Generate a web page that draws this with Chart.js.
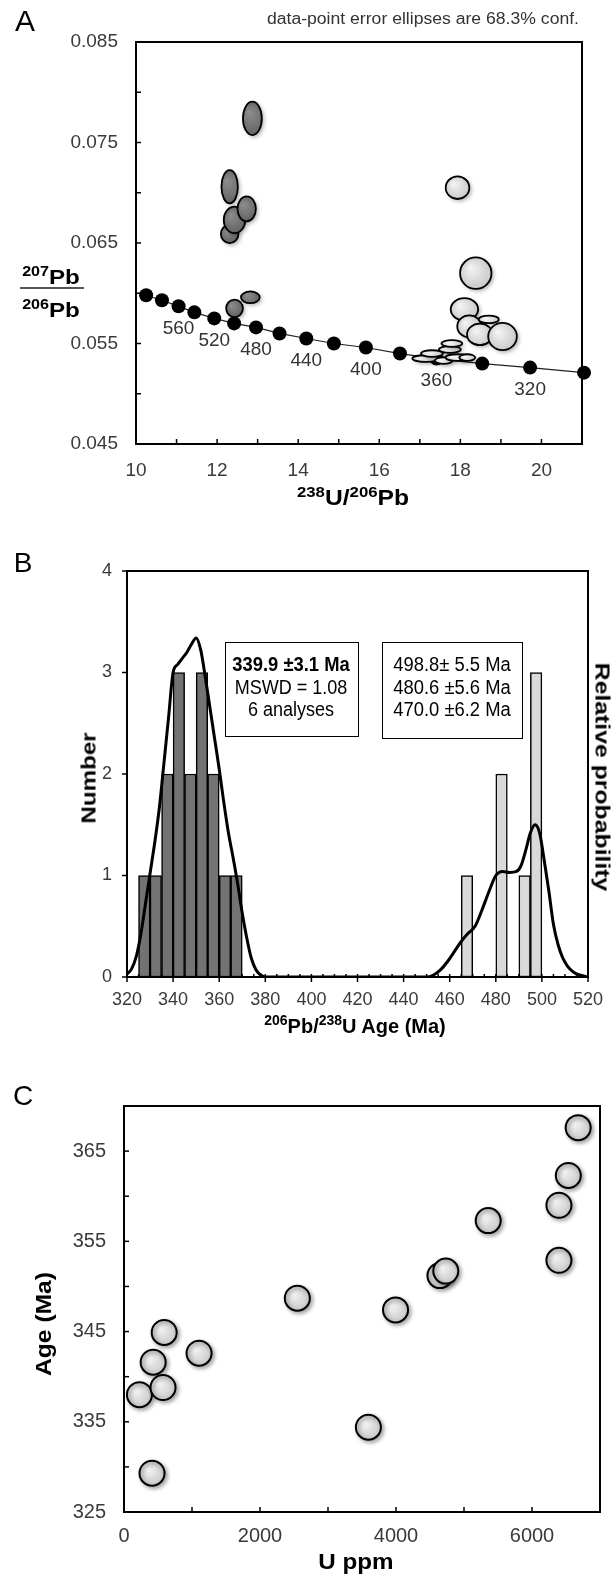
<!DOCTYPE html>
<html><head><meta charset="utf-8">
<script src="https://cdn.jsdelivr.net/npm/chart.js@4"></script>
<style>
html,body{margin:0;padding:0;background:#fff;}
#wrap{position:relative;width:616px;height:1575px;overflow:hidden;font-family:'Liberation Sans',Arial,sans-serif;}
canvas{position:absolute;left:0;}
.t{position:absolute;white-space:nowrap;line-height:1;color:#000;}
.box{position:absolute;border:1px solid #000;}
.sp{position:relative;}
</style></head>
<body><div id="wrap">
<canvas id="cA" width="616" height="520" style="top:0px"></canvas>
<canvas id="cB" width="616" height="520" style="top:530px"></canvas>
<canvas id="cC" width="616" height="515" style="top:1060px"></canvas>
</div>
<script>
// ---------- Panel A data ----------
const concordiaAge = [600,580,560,540,520,500,480,460,440,420,400,380,360,340,320,300];
const concordiaX = [10.25,10.64,11.05,11.44,11.93,12.42,12.96,13.54,14.20,14.88,15.67,16.51,17.41,18.54,19.72,21.05];
const concordiaY = [0.0598,0.0593,0.0587,0.0581,0.0575,0.0570,0.0566,0.0560,0.0555,0.0550,0.0546,0.0540,0.0535,0.0530,0.0526,0.0521];
const concordiaLabelAges = [560,520,480,440,400,360,320];
const darkX = [12.31,12.43,12.31,12.73,12.87,12.43,12.82];
const darkY = [0.0659,0.0673,0.0706,0.0684,0.0774,0.0585,0.0596];
const darkErrX = [0.217,0.266,0.202,0.227,0.232,0.207,0.232];
const darkErrY = [0.00092,0.00132,0.00166,0.00124,0.00166,0.00087,0.00058];
const lightX = [17.15,17.30,17.59,17.74,17.79,17.93,18.17,17.93,18.38,18.10,18.22,18.70,18.48,19.04];
const lightY = [0.0535,0.0540,0.0533,0.0544,0.0550,0.0536,0.0536,0.0705,0.0620,0.0584,0.0567,0.0574,0.0559,0.0557];
const lightErrX = [0.333,0.271,0.222,0.271,0.256,0.296,0.197,0.291,0.387,0.338,0.296,0.247,0.316,0.353];
const lightErrY = [0.00033,0.00033,0.00033,0.00033,0.00033,0.00033,0.00033,0.00112,0.00157,0.00111,0.00109,0.00038,0.00107,0.00136];

// ---------- Panel B data ----------
const darkBinAge = [327.5,332.5,337.5,342.5,347.5,352.5,357.5,362.5,367.5];
const darkBinCount = [1,1,2,3,2,3,2,1,1];
const lightBinAge = [467.5,482.5,492.5,497.5];
const lightBinCount = [1,2,1,3];
const probAge = [320,322,324,326,328,330,332,334,336,338,340,342,344,346,348,350,352,354,356,358,360,362,364,366,368,370,372,374,376,378,380,
  450,453,456,459,462,465,468,471,474,477,480,483,486,489,491,493,495,497,499,501,503,505,507,509,511,513,515,518,520];
const probValue = [0.03,0.08,0.2,0.42,0.72,1.02,1.32,1.66,2.1,2.55,3.0,3.08,3.14,3.2,3.28,3.34,3.22,2.95,2.65,2.35,2.05,1.72,1.42,1.18,0.92,0.63,0.38,0.18,0.07,0.02,0,
  0,0.02,0.07,0.15,0.25,0.35,0.43,0.5,0.66,0.84,1.0,1.04,1.03,1.04,1.1,1.25,1.42,1.5,1.42,1.15,0.85,0.52,0.32,0.19,0.11,0.06,0.03,0.01,0];

// ---------- Panel C data ----------
const uPpm = [227,429,412,574,591,1104,2549,3594,3993,4646,4732,5356,6396,6396,6534,6679];
const ageMa = [338.0,341.6,329.3,338.8,344.9,342.6,348.7,334.4,347.4,351.2,351.7,357.3,352.9,359.0,362.3,367.6];

// ---------- common ----------
Chart.defaults.font.family = "'Liberation Sans', Arial, sans-serif";
Chart.defaults.color = '#3a3a3a';
Chart.defaults.animation = false;
Chart.defaults.events = [];
Chart.defaults.plugins.legend.display = false;
Chart.defaults.plugins.tooltip.enabled = false;

const frameTicks = {
  id: 'frameTicks',
  beforeDatasetsDraw(chart, args, o) {
    const ctx = chart.ctx, a = chart.chartArea;
    ctx.save();
    ctx.strokeStyle = '#000';
    ctx.lineWidth = 1.5;
    const xs = chart.scales.x, ys = chart.scales.y;
    const drawX = (v, len, inward) => {
      const p = xs.getPixelForValue(v);
      ctx.beginPath(); ctx.moveTo(p, a.bottom); ctx.lineTo(p, inward ? a.bottom - len : a.bottom + len); ctx.stroke();
    };
    const drawY = (v, len, inward) => {
      const p = ys.getPixelForValue(v);
      ctx.beginPath(); ctx.moveTo(a.left, p); ctx.lineTo(inward ? a.left + len : a.left - len, p); ctx.stroke();
    };
    xs.ticks.forEach(t => drawX(t.value, o.xLen, o.xIn));
    ys.ticks.forEach(t => drawY(t.value, o.yLen, o.yIn));
    if (o.xMinor) {
      for (let v = xs.min; v <= xs.max; v += o.xMinor) drawX(v, 3, true);
    }
    ctx.lineWidth = 2;
    ctx.strokeRect(a.left, a.top, a.right - a.left, a.bottom - a.top);
    ctx.restore();
  }
};

const shadowPlugin = {
  id: 'shadow',
  beforeDatasetDraw(chart, args, o) {
    if (!o.list || o.list.indexOf(args.index) < 0) return;
    const ctx = chart.ctx;
    ctx.save();
    ctx.shadowColor = 'rgba(0,0,0,0.35)'; ctx.shadowBlur = 4; ctx.shadowOffsetX = 2; ctx.shadowOffsetY = 2;
  },
  afterDatasetDraw(chart, args, o) {
    if (!o.list || o.list.indexOf(args.index) < 0) return;
    chart.ctx.restore();
  }
};

function fitY(w) { return s => { s.width = w; }; }
function fitX(h) { return s => { s.height = h; }; }

// ---------- Chart A ----------
const ellipsePlugin = {
  id: 'ellipses',
  afterDatasetDraw(chart, args) {
    const ds = chart.data.datasets[args.index];
    if (!ds.errX) return;
    const ctx = chart.ctx, xs = chart.scales.x, ys = chart.scales.y;
    ctx.save();
    args.meta.data.forEach((el, i) => {
      const d = ds.data[i];
      const rx = Math.abs(xs.getPixelForValue(d.x + ds.errX[i]) - el.x);
      const ry = Math.abs(ys.getPixelForValue(d.y + ds.errY[i]) - el.y);
      const g = ctx.createRadialGradient(el.x - rx * 0.35, el.y - ry * 0.35, 0.5, el.x, el.y, Math.max(rx, ry) * 1.1);
      g.addColorStop(0, ds.fill0); g.addColorStop(1, ds.fill1);
      ctx.beginPath(); ctx.ellipse(el.x, el.y, rx, ry, 0, 0, Math.PI * 2);
      ctx.shadowColor = 'rgba(0,0,0,0.35)'; ctx.shadowBlur = 4; ctx.shadowOffsetX = 2; ctx.shadowOffsetY = 2;
      ctx.fillStyle = g; ctx.fill();
      ctx.shadowColor = 'rgba(0,0,0,0)';
      ctx.lineWidth = 1.8; ctx.strokeStyle = '#000'; ctx.stroke();
    });
    ctx.restore();
  },
  afterDatasetsDraw(chart) {
    const ctx = chart.ctx;
    const meta = chart.getDatasetMeta(0);
    ctx.save();
    ctx.font = "19px 'Liberation Sans', Arial, sans-serif";
    ctx.fillStyle = '#333'; ctx.textAlign = 'center'; ctx.textBaseline = 'middle';
    concordiaLabelAges.forEach(age => {
      const i = concordiaAge.indexOf(age);
      const el = meta.data[i];
      ctx.fillText(String(age), el.x, el.y + 22);
    });
    ctx.restore();
  }
};

new Chart(document.getElementById('cA'), {
  type: 'scatter',
  data: { datasets: [
    { type: 'line', data: concordiaX.map((x, i) => ({x, y: concordiaY[i]})), borderColor: '#222', borderWidth: 1.2,
      pointRadius: 7, pointBackgroundColor: '#000', pointBorderWidth: 0, tension: 0, clip: false, order: 2 },
    { data: darkX.map((x, i) => ({x, y: darkY[i]})), errX: darkErrX, errY: darkErrY, fill0: '#8c8c8c', fill1: '#5f5f5f',
      pointRadius: 0, order: 1 },
    { data: lightX.map((x, i) => ({x, y: lightY[i]})), errX: lightErrX, errY: lightErrY, fill0: '#f4f4f4', fill1: '#c6c6c6',
      pointRadius: 0, order: 0 }
  ]},
  options: {
    responsive: false,
    layout: { padding: { top: 42, right: 34, bottom: 0, left: 0 } },
    scales: {
      x: { type: 'linear', min: 10, max: 21, afterFit: fitX(76),
        grid: { display: false, drawTicks: false }, border: { display: false },
        ticks: { stepSize: 1, autoSkip: false, maxRotation: 0, padding: 15, font: { size: 19 },
          callback: v => (v % 2 === 0 ? String(v) : '') } },
      y: { min: 0.045, max: 0.085, afterFit: fitY(136),
        grid: { display: false, drawTicks: false }, border: { display: false },
        ticks: { stepSize: 0.005, autoSkip: false, padding: 18, font: { size: 19 },
          callback: v => { const k = Math.round(v * 1000); return (k % 10 === 5) ? (k / 1000).toFixed(3) : ''; } } }
    },
    plugins: { frameTicks: { xLen: 5, xIn: true, yLen: 5, yIn: true } }
  },
  plugins: [frameTicks, ellipsePlugin]
});

// ---------- Chart B ----------
new Chart(document.getElementById('cB'), {
  type: 'scatter',
  data: { datasets: [
    { type: 'line', data: probAge.map((x, i) => ({x, y: probValue[i]})), borderColor: '#000', borderWidth: 3,
      pointRadius: 0, cubicInterpolationMode: 'monotone', order: 0 },
    { type: 'bar', data: darkBinAge.map((x, i) => ({x, y: darkBinCount[i]})), backgroundColor: '#737373',
      borderColor: '#000', borderWidth: 1.5, borderSkipped: false, grouped: false, barPercentage: 1, categoryPercentage: 1, order: 1 },
    { type: 'bar', data: lightBinAge.map((x, i) => ({x, y: lightBinCount[i]})), backgroundColor: '#d9d9d9',
      borderColor: '#000', borderWidth: 1.5, borderSkipped: false, grouped: false, barPercentage: 1, categoryPercentage: 1, order: 1 }
  ]},
  options: {
    responsive: false,
    layout: { padding: { top: 41, right: 28, bottom: 0, left: 0 } },
    scales: {
      x: { type: 'linear', min: 320, max: 520, offset: false, afterFit: fitX(73),
        grid: { display: false, drawTicks: false, offset: false }, border: { display: false },
        ticks: { stepSize: 20, autoSkip: false, maxRotation: 0, padding: 12, font: { size: 18 } } },
      y: { min: 0, max: 4, afterFit: fitY(127),
        grid: { display: false, drawTicks: false }, border: { display: false },
        ticks: { stepSize: 1, padding: 15, font: { size: 18 } } }
    },
    plugins: { frameTicks: { xLen: 5, xIn: false, yLen: 5, yIn: false, xMinor: 5 } }
  },
  plugins: [frameTicks]
});

// ---------- Chart C ----------
new Chart(document.getElementById('cC'), {
  type: 'scatter',
  data: { datasets: [
    { data: uPpm.map((x, i) => ({x, y: ageMa[i]})), pointRadius: 12.5, borderColor: '#000', borderWidth: 2,
      backgroundColor: (c) => {
        const flat = '#d6d6d6';
        if (c.type !== 'data' || !c.parsed) return flat;
        const ch = c.chart, xs = ch.scales && ch.scales.x, ys = ch.scales && ch.scales.y;
        if (!xs || !ys) return flat;
        const px = xs.getPixelForValue(c.parsed.x), py = ys.getPixelForValue(c.parsed.y);
        if (!isFinite(px) || !isFinite(py)) return flat;
        const g = ch.ctx.createRadialGradient(px - 4, py - 4, 1, px, py, 13);
        g.addColorStop(0, '#f2f2f2'); g.addColorStop(1, '#c8c8c8');
        return g;
      } }
  ]},
  options: {
    responsive: false,
    layout: { padding: { top: 46, right: 16, bottom: 0, left: 0 } },
    scales: {
      x: { type: 'linear', min: 0, max: 7000, afterFit: fitX(63),
        grid: { display: false, drawTicks: false }, border: { display: false },
        ticks: { stepSize: 1000, autoSkip: false, maxRotation: 0, padding: 12, font: { size: 20 },
          callback: v => (v % 2000 === 0 ? String(v) : '') } },
      y: { min: 325, max: 370, afterFit: fitY(124),
        grid: { display: false, drawTicks: false }, border: { display: false },
        ticks: { stepSize: 5, autoSkip: false, padding: 18, font: { size: 20 },
          callback: v => (v % 10 === 5 ? String(v) : '') } }
    },
    plugins: { frameTicks: { xLen: 5, xIn: true, yLen: 5, yIn: true }, shadow: { list: [0] } }
  },
  plugins: [frameTicks, shadowPlugin]
});

// ---------- HTML text ----------
const wrap = document.getElementById('wrap');
function txt(html, cx, cy, size, o = {}) {
  const d = document.createElement('div');
  d.className = 't'; d.innerHTML = html;
  d.style.fontSize = size + 'px';
  if (o.bold) d.style.fontWeight = 'bold';
  if (o.color) d.style.color = o.color;
  if (o.family) d.style.fontFamily = o.family;
  d.style.left = cx + 'px'; d.style.top = cy + 'px';
  const ax = o.align === 'right' ? '-100%' : (o.align === 'left' ? '0' : '-50%');
  if (o.align === 'right') d.style.transformOrigin = '100% 50%';
  d.style.transform = 'translate(' + ax + ',-50%)' + (o.rot ? ' rotate(' + o.rot + 'deg)' : '') + (o.sx ? ' scaleX(' + o.sx + ')' : '');
  wrap.appendChild(d);
}
function sup(s, size, shift) { return '<span class="sp" style="font-size:' + size + 'px;top:-' + shift + 'px">' + s + '</span>'; }
function box(l, t, w, h) {
  const d = document.createElement('div'); d.className = 'box';
  d.style.left = l + 'px'; d.style.top = t + 'px'; d.style.width = w + 'px'; d.style.height = h + 'px';
  wrap.appendChild(d);
}

// Panel A
txt('A', 25, 21, 30);
txt('data-point error ellipses are 68.3% conf.', 579, 19, 16, { align: 'right', color: '#333', sx: 1.1 });
txt(sup('207', 14, 8) + 'Pb', 51, 276, 21, { bold: true, sx: 1.15 });
(function () { const d = document.createElement('div'); d.style.cssText = 'position:absolute;left:20px;top:287px;width:64px;height:2px;background:#555;'; wrap.appendChild(d); })();
txt(sup('206', 14, 8) + 'Pb', 51, 309, 21, { bold: true, sx: 1.15 });
txt(sup('238', 15, 8) + 'U/' + sup('206', 15, 8) + 'Pb', 353, 498, 22, { bold: true, sx: 1.12 });

// Panel B
txt('B', 23, 563, 28);
txt('Number', 88, 778, 21, { bold: true, rot: -90, sx: 1.15 });
txt('Relative probability', 603, 777, 21, { bold: true, rot: 90, sx: 1.18 });
txt(sup('206', 14, 8) + 'Pb/' + sup('238', 14, 8) + 'U Age (Ma)', 355, 1026, 20, { bold: true });
box(225, 642, 132, 93);
txt('339.9 ±3.1 Ma', 291, 664, 20, { bold: true, sx: 0.92 });
txt('MSWD = 1.08', 291, 687, 20, { sx: 0.9 });
txt('6 analyses', 291, 709, 20, { sx: 0.9 });
box(382, 642, 139, 95);
txt('498.8± 5.5 Ma', 452, 664, 20, { sx: 0.92 });
txt('480.6 ±5.6 Ma', 452, 687, 20, { sx: 0.92 });
txt('470.0 ±6.2 Ma', 452, 709, 20, { sx: 0.92 });

// Panel C
txt('C', 23, 1096, 28);
txt('Age (Ma)', 44, 1324, 22, { bold: true, rot: -90, sx: 1.12 });
txt('U ppm', 356, 1562, 22, { bold: true, sx: 1.1 });
</script>
</body></html>
